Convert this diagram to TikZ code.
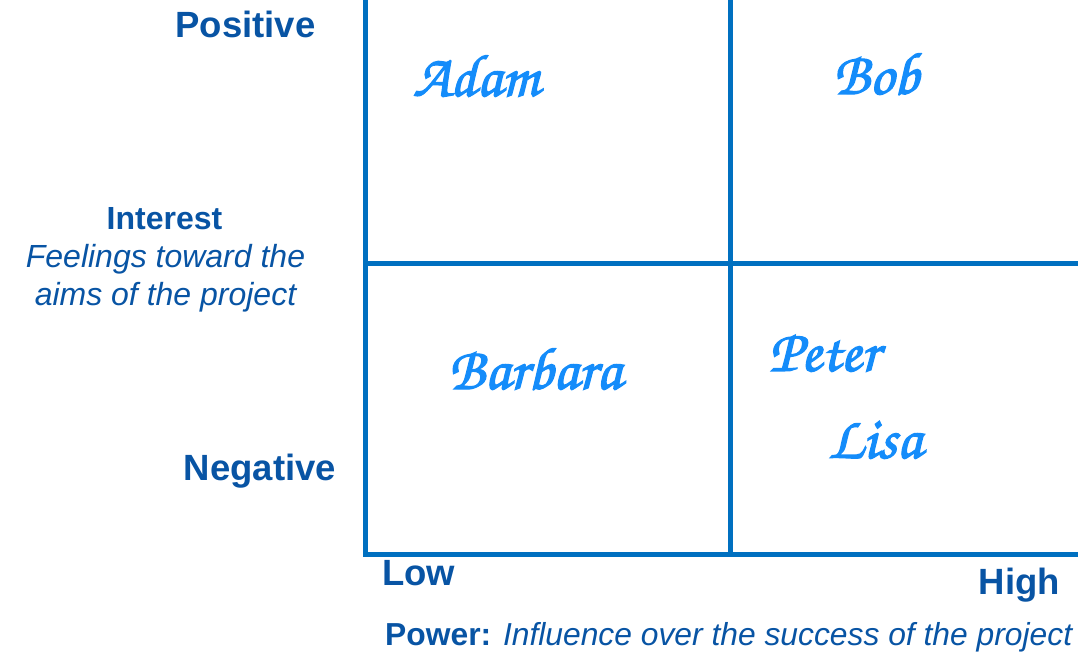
\documentclass[tikz,border=0pt]{standalone}
\usepackage[T1]{fontenc}
\usepackage{fontspec}
\setmainfont{Liberation Sans}
\definecolor{gridblue}{RGB}{0,112,192}
\definecolor{labelblue}{RGB}{8,84,164}
\definecolor{nameblue}{RGB}{20,140,250}
\newcommand{\scriptname}{\usefont{T1}{pzc}{mb}{it}\fontsize{60}{66}\selectfont}
\newcommand{\heavytext}[1]{\special{pdf:literal direct 2 Tr 1.2 w}#1\special{pdf:literal direct 0 Tr}}
\begin{document}
\begin{tikzpicture}[x=1pt,y=1pt,
  gridline/.style={draw=gridblue,line width=5pt},
  biglabel/.style={text=labelblue,font=\fontsize{36.5}{40}\selectfont\bfseries,inner sep=0pt},
  midlabel/.style={text=labelblue,font=\fontsize{32}{36}\selectfont,inner sep=0pt},
  person/.style={text=nameblue,font=\scriptname,inner sep=0pt}]
\useasboundingbox (0,0) rectangle (1078,-652);
\begin{scope}
\clip (0,0) rectangle (1078,-652);
\coordinate (tl) at (365,5);
\coordinate (bl) at (365,-554);
\coordinate (br) at (1085,-554);
\coordinate (tm) at (730,5);
\coordinate (bm) at (730,-554);
\coordinate (ml) at (365,-263.5);
\coordinate (mr) at (1085,-263.5);
\draw[gridline] (tl) -- (bl) -- (br);
\draw[gridline] (tm) -- (bm);
\draw[gridline] (ml) -- (mr);
\end{scope}
\node[biglabel,anchor=base] (pos) at (245.5,-38) {Positive};
\node[biglabel,anchor=base] (neg) at (260,-480) {Negative};
\node[midlabel,anchor=base,font=\fontsize{32}{36}\selectfont\bfseries] (int) at (164.5,-230) {Interest};
\node[midlabel,anchor=base] (feel1) at (165.5,-268) {\itshape Feelings toward the};
\node[midlabel,anchor=base] (feel2) at (165.5,-305) {\itshape aims of the project};
\node[biglabel,anchor=base west] (low) at (382,-585) {Low};
\node[biglabel,anchor=base east] (high) at (1060,-594) {High};
\node[midlabel,anchor=base west,font=\fontsize{31.8}{36}\selectfont] (power) at (385,-645) {\textbf{Power:} \itshape Influence over the success of the project};
\node[person,anchor=base] (adam) at (476,-96) {\heavytext{Adam}};
\node[person,anchor=base] (bob) at (876,-94) {\heavytext{Bob}};
\node[person,anchor=base] (barbara) at (535,-389) {\heavytext{Barbara}};
\node[person,anchor=base] (peter) at (824,-371) {\heavytext{Peter}};
\node[person,anchor=base] (lisa) at (875,-458) {\heavytext{Lisa}};
\end{tikzpicture}
\end{document}
